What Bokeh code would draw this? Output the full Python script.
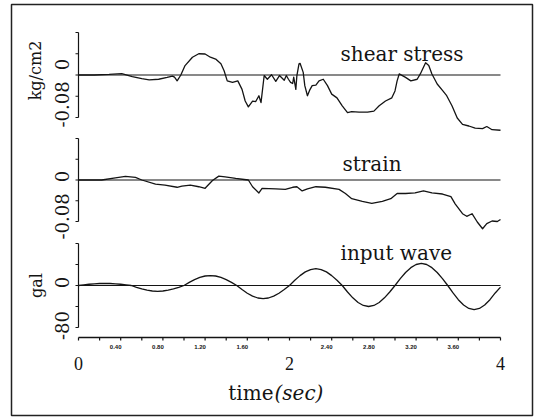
import math
from bokeh.plotting import figure
from bokeh.models import Range1d
from bokeh.core.properties import value
from bokeh.embed import file_html
from bokeh.resources import INLINE

# ---------------- data ----------------
stress_t = [0.00, 0.15, 0.29, 0.41, 0.51, 0.60, 0.67, 0.76, 0.84, 0.89, 0.91, 0.935, 0.97,
            1.01, 1.08, 1.14, 1.20, 1.25, 1.30, 1.35, 1.38, 1.41, 1.46, 1.51, 1.55, 1.58,
            1.61, 1.65, 1.68, 1.71, 1.73, 1.76, 1.79, 1.83, 1.87, 1.905, 1.95, 1.97, 1.99,
            2.01, 2.03, 2.04, 2.06, 2.07, 2.09, 2.10, 2.13, 2.145, 2.17, 2.19, 2.215, 2.25,
            2.28, 2.32, 2.36, 2.40, 2.45, 2.50, 2.55, 2.59, 2.66, 2.74, 2.80, 2.85, 2.91,
            2.97, 3.00, 3.02, 3.04, 3.10, 3.15, 3.21, 3.24, 3.29, 3.32, 3.35, 3.40, 3.45,
            3.49, 3.54, 3.59, 3.64, 3.70, 3.76, 3.83, 3.87, 3.92, 4.00]
stress_v = [0.000, 0.000, 0.001, 0.0025, -0.003, -0.007, -0.009, -0.008, -0.0045, -0.002, -0.004, -0.011, 0.000,
            0.0177, 0.0335, 0.040, 0.0395, 0.0335, 0.030, 0.021, 0.008, -0.011, -0.014, -0.011, -0.027, -0.049,
            -0.060, -0.049, -0.050, -0.039, -0.052, -0.001, -0.008, 0.0005, -0.012, -0.001, -0.010, -0.001, -0.008,
            -0.014, -0.016, -0.004, -0.027, -0.001, 0.021, 0.022, 0.005, -0.020, -0.039, -0.029, -0.020, -0.019,
            -0.011, -0.008, -0.020, -0.036, -0.043, -0.058, -0.071, -0.069, -0.070, -0.070, -0.068, -0.058, -0.049,
            -0.043, -0.030, -0.011, 0.002, -0.0045, -0.011, -0.008, 0.002, 0.023, 0.018, 0.002, -0.017, -0.029,
            -0.039, -0.058, -0.081, -0.093, -0.096, -0.100, -0.101, -0.097, -0.103, -0.104]

strain_t = [0.00, 0.22, 0.35, 0.445, 0.54, 0.60, 0.73, 0.82, 0.935, 0.98, 1.06, 1.14, 1.20, 1.27,
            1.33, 1.39, 1.49, 1.57, 1.61, 1.65, 1.71, 1.74, 1.87, 1.96, 2.03, 2.07, 2.12, 2.17,
            2.25, 2.34, 2.47, 2.53, 2.59, 2.69, 2.78, 2.88, 2.96, 3.02, 3.10, 3.19, 3.27, 3.35,
            3.45, 3.53, 3.57, 3.64, 3.68, 3.73, 3.78, 3.83, 3.87, 3.92, 3.97, 4.00]
strain_v = [0.0, 0.0, 0.004, 0.007, 0.005, 0.0, -0.008, -0.010, -0.014, -0.012, -0.010, -0.013, -0.016, -0.001,
            0.0075, 0.006, 0.003, 0.001, 0.0, -0.013, -0.025, -0.016, -0.017, -0.018, -0.014, -0.013, -0.021, -0.017,
            -0.013, -0.014, -0.018, -0.026, -0.036, -0.041, -0.045, -0.041, -0.036, -0.026, -0.026, -0.025, -0.021, -0.025,
            -0.027, -0.032, -0.046, -0.065, -0.070, -0.065, -0.081, -0.094, -0.084, -0.079, -0.080, -0.076]

wave_t = [0.00, 0.05, 0.10, 0.15, 0.20, 0.25, 0.30, 0.35, 0.40, 0.45,
          0.50, 0.55, 0.60, 0.65, 0.70, 0.75, 0.80, 0.85, 0.90, 0.95,
          1.00, 1.05, 1.10, 1.15, 1.20, 1.25, 1.30, 1.35, 1.40, 1.45,
          1.50, 1.55, 1.60, 1.65, 1.70, 1.75, 1.80, 1.85, 1.90, 1.95,
          2.00, 2.05, 2.10, 2.15, 2.20, 2.25, 2.30, 2.35, 2.40, 2.45,
          2.50, 2.55, 2.60, 2.65, 2.70, 2.75, 2.80, 2.85, 2.90, 2.95,
          3.00, 3.05, 3.10, 3.15, 3.20, 3.25, 3.30, 3.35, 3.40, 3.45,
          3.50, 3.55, 3.60, 3.65, 3.70, 3.75, 3.80, 3.85, 3.90, 3.95, 4.00]
wave_v = [0, 1.2, 2.4, 3.2, 3.8, 4, 3.8, 3.2, 2.4, 1.2,
          0, -3.4, -6.5, -8.9, -10.5, -11, -10.5, -8.9, -6.5, -3.4,
          0, 5.9, 11.2, 15.4, 18.1, 19, 18.1, 15.4, 11.2, 5.9,
          0, -7.7, -14.7, -20.2, -23.8, -25, -23.8, -20.2, -14.7, -7.7,
          0, 9.9, 18.8, 25.9, 30.4, 32, 30.4, 25.9, 18.8, 9.9,
          0, -12.4, -23.5, -32.4, -38, -40, -38, -32.4, -23.5, -12.4,
          0, 13, 24.7, 34, 40, 42, 40, 34, 24.7, 13,
          0, -14.2, -27, -37.2, -43.7, -46, -43.7, -37.2, -27, -14.2, -3]

panel_titles = ["shear stress", "strain", "input wave"]
panel_units = ["kg/cm2", "", "gal"]
panel_limits = [(-0.08, 0.08), (-0.08, 0.08), (-80, 80)]
panel_ticks = [[-0.08, -0.04, 0, 0.04, 0.08], [-0.08, -0.04, 0, 0.04, 0.08], [-80, -40, 0, 40, 80]]
panel_label_vals = [[0, -0.08], [0, -0.08], [0, -80]]
panel_label_text = [["0", "-0.08"], ["0", "-0.08"], ["0", "-80"]]

x_ticks = [0.0, 0.2, 0.4, 0.6, 0.8, 1.0, 1.2, 1.4, 1.6, 1.8, 2.0,
           2.2, 2.4, 2.6, 2.8, 3.0, 3.2, 3.4, 3.6, 3.8, 4.0]
x_small_ticks = [0.4, 0.8, 1.2, 1.6, 2.4, 2.8, 3.2, 3.6]
x_small_labels = ["0.40", "0.80", "1.20", "1.60", "2.40", "2.80", "3.20", "3.60"]
x_big_ticks = [0, 2, 4]
x_big_labels = ["0", "2", "4"]
x_title = ["time", "(sec)"]

# ---------------- layout constants (pixels) ----------------
W, H = 535, 418
FL, FR, FT, FB = 11, 532, 4, 415
X0PX, X4PX = 78, 500
PANEL_PX = [(32, 117), (138, 221), (243, 327)]
LABEL_OFF = [(-10.5, -13), (-3.5, -5), (-3, -2)]
UNIT_POS = [(35, 70), None, (36, 285)]
TITLE_POS = [(340, 53), (342, 163), (340, 252)]
AXIS_PX = 337
TICK = 3
INK = "#141414"
TFONT = value("DejaVu Serif")
NFONT = value("serif")

spp = 4.0 / (X4PX - X0PX)
p = figure(width=W, height=H, output_backend="svg", toolbar_location=None,
           x_range=Range1d(-(X0PX - FL) * spp, 4 + (FR - X4PX) * spp),
           y_range=Range1d(FB, FT),
           x_axis_location=None, y_axis_location=None,
           min_border_left=FL, min_border_right=W - FR,
           min_border_top=FT, min_border_bottom=H - FB)
p.grid.grid_line_color = None
p.background_fill_color = "white"
p.border_fill_color = "white"
p.outline_line_color = "#222222"
p.outline_line_width = 1.5
p.extra_x_ranges = {"px": Range1d(FL, FR)}

series = [(stress_t, stress_v), (strain_t, strain_v), (wave_t, wave_v)]
for i, (t, v) in enumerate(series):
    top, bot = PANEL_PX[i]
    vmin, vmax = panel_limits[i]
    ppu = (bot - top) / (vmax - vmin)
    name = "p%d" % i
    p.extra_y_ranges[name] = Range1d(vmin - (FB - bot) / ppu, vmax + (top - FT) / ppu)

    # zero reference line and data curve
    p.line([0, 4], [0, 0], y_range_name=name, line_color=INK, line_width=1.1)
    p.line(t, v, y_range_name=name, line_color=INK, line_width=1.3, line_join="round")
    # y axis line and ticks
    p.segment(x0=[X0PX], y0=[vmin], x1=[X0PX], y1=[vmax], x_range_name="px",
              y_range_name=name, line_color=INK, line_width=1.2)
    tk = panel_ticks[i]
    p.segment(x0=[X0PX - TICK] * len(tk), y0=tk, x1=[X0PX] * len(tk), y1=tk,
              x_range_name="px", y_range_name=name, line_color=INK, line_width=1.2)
    # rotated tick labels
    for val, txt, off in zip(panel_label_vals[i], panel_label_text[i], LABEL_OFF[i]):
        p.text(x=[X0PX - 17], y=[val], text=[txt], angle=math.pi / 2,
               x_range_name="px", y_range_name=name, y_offset=off,
               text_align="center", text_baseline="middle",
               text_font=TFONT, text_font_size="18px", text_color=INK)
    # unit label
    if UNIT_POS[i] is not None:
        ux, uy = UNIT_POS[i]
        p.text(x=[ux], y=[uy], text=[panel_units[i]], angle=math.pi / 2,
               x_range_name="px", text_align="center", text_baseline="middle",
               text_font=TFONT, text_font_size="16px", text_color=INK)
    # panel title
    tx, ty = TITLE_POS[i]
    p.text(x=[tx], y=[ty], text=[panel_titles[i]], x_range_name="px",
           text_align="left", text_baseline="alphabetic",
           text_font=TFONT, text_font_size="20px", text_color=INK)

# x axis
p.segment(x0=[0], y0=[AXIS_PX], x1=[4], y1=[AXIS_PX], line_color=INK, line_width=1.5)
p.segment(x0=x_ticks, y0=[AXIS_PX] * len(x_ticks), x1=x_ticks, y1=[AXIS_PX + TICK] * len(x_ticks),
          line_color=INK, line_width=1.2)
p.text(x=x_small_ticks, y=[AXIS_PX + 9] * len(x_small_ticks), text=x_small_labels,
       x_offset=-5, text_align="center", text_baseline="middle",
       text_font=value("sans-serif"), text_font_style="bold",
       text_font_size="6px", text_color=INK)
p.text(x=x_big_ticks, y=[AXIS_PX + 26] * len(x_big_ticks), text=x_big_labels,
       text_align="center", text_baseline="alphabetic",
       text_font=NFONT, text_font_size="18px", text_color=INK)
# axis title: "time" upright + "(sec)" italic
TIME_JOIN, TIME_Y = 273, 392
p.text(x=[TIME_JOIN], y=[TIME_Y], text=[x_title[0]], x_range_name="px",
       text_align="right", text_baseline="alphabetic",
       text_font=TFONT, text_font_size="20px", text_color=INK)
p.text(x=[TIME_JOIN + 1], y=[TIME_Y], text=[x_title[1]], x_range_name="px",
       text_align="left", text_baseline="alphabetic", text_font_style="italic",
       text_font=TFONT, text_font_size="20px", text_color=INK)

open("out.html", "w").write(file_html(p, INLINE))
